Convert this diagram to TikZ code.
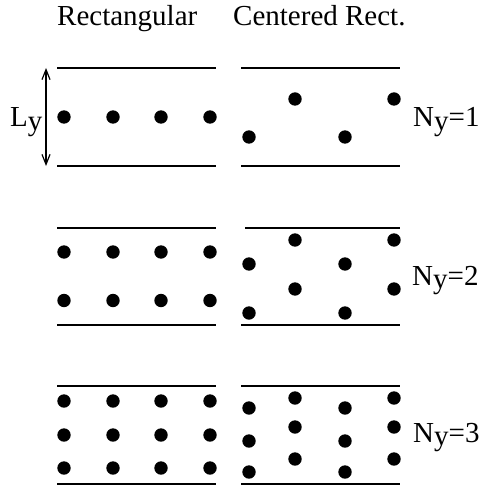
\documentclass[tikz,border=0pt]{standalone}
\usepackage{fontspec}
\setmainfont{Liberation Serif}
\usetikzlibrary{arrows.meta}
\begin{document}
\begin{tikzpicture}[x=1pt,y=-1pt,
  wall/.style={line width=1.8pt},
  atom/.style={fill=black},
  lbl/.style={anchor=base west,inner sep=0pt,font=\fontsize{29}{34}\selectfont},
  dim/.style={line width=1.2pt,{Straight Barb[length=10pt,width=8pt,line width=1.2pt]}-{Straight Barb[length=10pt,width=8pt,line width=1.2pt]}}]
\useasboundingbox (0,0) rectangle (482,489);
% titles
\node[lbl] (t1) at (57,26) {Rectangular};
\node[lbl] (t2) at (233,26) {Centered Rect.};
% panel walls
\foreach \yt/\yb/\xs in {68/166/241, 228/325/245, 386/484/241}{
  \draw[wall] (57,\yt) -- (216,\yt);
  \draw[wall] (57,\yb) -- (216,\yb);
  \draw[wall] (\xs,\yt) -- (400,\yt);
  \draw[wall] (241,\yb) -- (400,\yb);
}
% rectangular lattices
\foreach \y in {117, 252, 300.5, 401, 435, 468}{
  \foreach \x in {64,113,161,210}{
    \fill[atom] (\x,\y) circle (6.7);
  }
}
% centered rect lattices
\foreach \x/\y in {249/137, 295/99, 345/137, 394/99,
  295/240, 394/240, 249/264, 345/264, 295/289, 394/289, 249/313, 345/313,
  249/408, 249/441, 249/472, 295/398, 295/427, 295/459,
  345/408, 345/441, 345/472, 394/398, 394/427, 394/459}{
  \fill[atom] (\x,\y) circle (6.7);
}
% Ly dimension
\coordinate (ytop) at (46,68);
\coordinate (ybot) at (46,166);
\draw[dim] (ytop) -- (ybot);
\node[lbl] (ly) at (10,127) {L\raisebox{-0.12em}{y}};
% Ny labels
\node[lbl] (n1) at (413,127) {N\raisebox{-0.12em}{y}=1};
\node[lbl] (n2) at (412,285) {N\raisebox{-0.12em}{y}=2};
\node[lbl] (n3) at (413,442) {N\raisebox{-0.12em}{y}=3};
\end{tikzpicture}
\end{document}
